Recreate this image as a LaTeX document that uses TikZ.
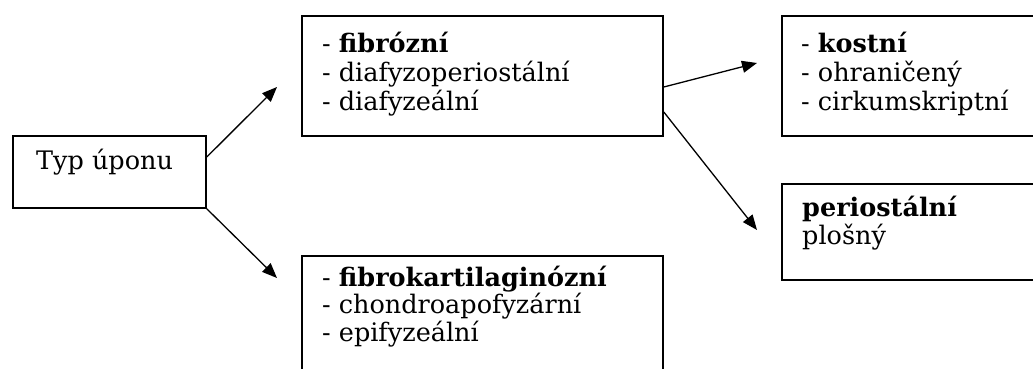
\documentclass[tikz,border=0pt]{standalone}
\usepackage{fontspec}
\setmainfont{DejaVu Serif}
\usetikzlibrary{arrows.meta}
\begin{document}
\begin{tikzpicture}[x=1pt,y=-1pt,
  box/.style={draw=black,line width=1.8pt,rectangle,anchor=north west,inner sep=0pt},
  txt/.style={anchor=base west,inner sep=0pt,font=\fontsize{25.5}{28.5}\selectfont},
  arr/.style={line width=1.3pt,-{Triangle[length=15pt,width=12pt]}}]
\useasboundingbox (0,0) rectangle (1033,369);
\clip (0,0) rectangle (1033,369);
% boxes
\node[box,minimum width=193pt,minimum height=72pt] (typ) at (12,135) {};
\node[box,minimum width=361pt,minimum height=120pt] (fib) at (301,15) {};
\node[box,minimum width=361pt,minimum height=140pt] (fibk) at (301,255) {};
\node[box,minimum width=270pt,minimum height=120pt] (kost) at (781,15) {};
\node[box,minimum width=270pt,minimum height=96pt] (peri) at (781,183) {};
% texts
\node[txt] (t0) at (36,169.3) {Typ úponu};
\node[txt] (f1) at (322,52.7) {- \textbf{fibrózní}};
\node[txt] (f2) at (322,81.5) {- diafyzoperiostální};
\node[txt] (f3) at (322,110) {- diafyzeální};
\node[txt] (k1) at (801,52.7) {- \textbf{kostní}};
\node[txt] (k2) at (801,81.5) {- ohraničený};
\node[txt] (k3) at (801,110) {- cirkumskriptní};
\node[txt] (p1) at (802,216) {\textbf{periostální}};
\node[txt] (p2) at (802,244) {plošný};
\node[txt] (b1) at (322,286) {- \textbf{fibrokartilaginózní}};
\node[txt] (b2) at (322,313.5) {- chondroapofyzární};
\node[txt] (b3) at (322,341.7) {- epifyzeální};
% arrow tips
\coordinate (a1) at (277,87);
\coordinate (a2) at (277,278);
\coordinate (a3) at (757,63);
\coordinate (a4) at (757,230);
\draw[arr] ([yshift=-22pt]typ.north east) -- (a1);
\draw[arr] (typ.south east) -- (a2);
\draw[arr] ([yshift=-72pt]fib.north east) -- (a3);
\draw[arr] ([yshift=-97pt]fib.north east) -- (a4);
\end{tikzpicture}
\end{document}
